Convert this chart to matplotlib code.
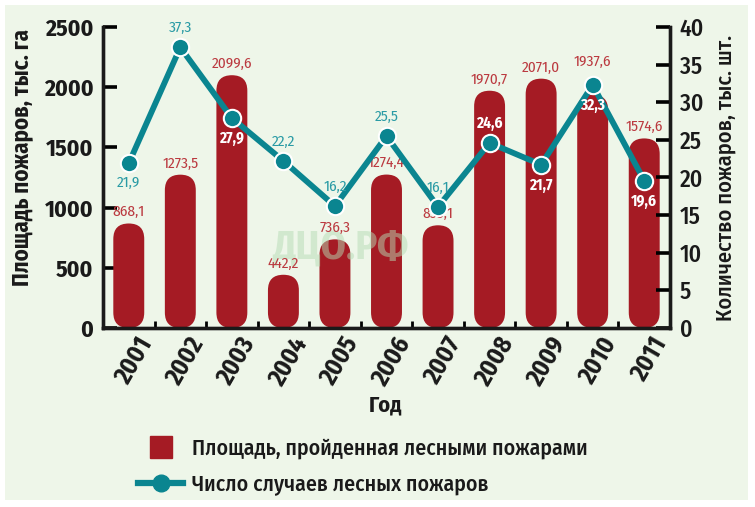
import matplotlib.pyplot as plt
from matplotlib.patches import FancyBboxPatch, Rectangle
from matplotlib.lines import Line2D

plt.rcParams['font.family'] = ['Fira Sans Condensed', 'DejaVu Sans']

# ---- данные ----
years = ["2001", "2002", "2003", "2004", "2005", "2006",
         "2007", "2008", "2009", "2010", "2011"]
area = [868.1, 1273.5, 2099.6, 442.2, 736.3, 1274.4,
        853.1, 1970.7, 2071.0, 1937.6, 1574.6]
area_labels = ["868,1", "1273,5", "2099,6", "442,2", "736,3", "1274,4",
               "853,1", "1970,7", "2071,0", "1937,6", "1574,6"]
fires = [21.9, 37.3, 27.9, 22.2, 16.2, 25.5, 16.1, 24.6, 21.7, 32.3, 19.6]
fires_labels = ["21,9", "37,3", "27,9", "22,2", "16,2", "25,5",
                "16,1", "24,6", "21,7", "32,3", "19,6"]
# положение подписей точек: +1 сверху, -1 снизу; цвет: белый внутри столбца
fires_side = [-1, 1, -1, 1, 1, 1, 1, 1, -1, -1, -1]
fires_white = [False, False, True, False, False, False, False, True, True, True, True]

RED = "#a51b24"
RED_TXT = "#bb3a40"
TEAL = "#0a8590"
TEAL_TXT = "#2a9ba5"
BG = "#eef6e9"
INK = "#1a1a1a"

fig = plt.figure(figsize=(7.55, 5.07), dpi=100)
fig.patch.set_facecolor("white")
fig.add_artist(Rectangle((5 / 755, 7 / 507), 743 / 755, 495 / 507,
                         transform=fig.transFigure, facecolor=BG,
                         edgecolor="none", zorder=-10))

ax = fig.add_axes([103 / 755, 1 - 328 / 507, 567 / 755, 301 / 507])
ax.set_facecolor("none")
ax2 = ax.twinx()

x = list(range(len(years)))
ax.set_xlim(-0.5, len(years) - 0.5)
ax.set_ylim(0, 2500)
ax2.set_ylim(0, 40)

# столбцы со скруглёнными краями
bw = 0.6
aspect = (2500 / 301) / (11 / 567)
for i, v in enumerate(area):
    p = FancyBboxPatch((i - bw / 2, 0), bw, v,
                       boxstyle="round,pad=0,rounding_size=%.3f" % (bw / 2),
                       mutation_aspect=aspect, facecolor=RED,
                       edgecolor="none", zorder=2)
    ax.add_patch(p)
    dy = 215 if i == 9 else 35
    ax.text(i, v + dy, area_labels[i], ha="center", va="bottom",
            color=RED_TXT, fontsize=11, zorder=5)

# линия числа пожаров
ax2.plot(x, fires, color=TEAL, lw=4.2, marker="o", ms=12.5,
         mfc=TEAL, mec="white", mew=1.5, zorder=4)
for i, v in enumerate(fires):
    c = "white" if fires_white[i] else TEAL_TXT
    w = "bold" if fires_white[i] else "normal"
    if fires_side[i] > 0:
        ax2.text(i, v + 1.6, fires_labels[i], ha="center", va="bottom",
                 color=c, fontsize=11, zorder=6, fontweight=w)
    else:
        ax2.text(i, v - 1.7, fires_labels[i], ha="center", va="top",
                 color=c, fontsize=11, zorder=6, fontweight=w)
ax2.set_zorder(ax.get_zorder() + 1)

# водяной знак
ax.text(0.418, 0.266, "ДЦО.РФ", transform=ax.transAxes, fontsize=29,
        fontweight="bold", color="#b5dcb5", alpha=0.5, ha="center",
        va="center", zorder=3)

# оси
for a in (ax, ax2):
    a.spines["top"].set_visible(False)
    for s in ("left", "right", "bottom"):
        a.spines[s].set_linewidth(2.4)
        a.spines[s].set_color(INK)

ax.set_yticks(range(0, 2501, 500))
ax.tick_params(axis="y", direction="in", length=10, width=2.6,
               labelsize=17, pad=7, labelcolor=INK)
for t in ax.get_yticklabels():
    t.set_fontweight("bold")
ax2.set_yticks(range(0, 41, 5))
ax2.tick_params(axis="y", direction="in", length=10, width=2.6,
                labelsize=17, pad=7, labelcolor=INK)
for t in ax2.get_yticklabels():
    t.set_fontweight("medium")

ax.set_xticks([i + 0.5 for i in x[:-1]])
ax.set_xticklabels([])
ax.tick_params(axis="x", direction="in", length=5, width=2)
for i, yr in enumerate(years):
    ax.text(i + 0.1, -40, yr, rotation=60, ha="center", va="top",
            fontsize=18, fontweight="bold", color=INK)

ax.set_ylabel("Площадь пожаров, тыс. га", fontsize=16.5, fontweight="bold",
              color=INK)
ax.yaxis.set_label_coords(-0.123, 0.568)
ax2.set_ylabel("Количество пожаров, тыс. шт.", fontsize=16,
               fontweight="medium", labelpad=8, color=INK)
fig.text(385 / 755, 1 - 405 / 507, "Год", ha="center", va="center",
         fontsize=16, fontweight="bold", color=INK)

# легенда
handles = [Line2D([], [], marker="s", ls="none", color=RED, ms=15.5),
           Line2D([], [], color=TEAL, lw=4.5, marker="o", ms=12)]
labels = ["Площадь, пройденная лесными пожарами",
          "Число случаев лесных пожаров"]
leg = fig.legend(handles, labels, loc="upper left",
                 bbox_to_anchor=(118 / 755, 1 - 418 / 507), frameon=False,
                 handlelength=2.1, labelspacing=0.68, handletextpad=0.4,
                 prop={"size": 15.7, "weight": "medium"})
for t in leg.get_texts():
    t.set_color(INK)

fig.savefig("out.png", dpi=100)
